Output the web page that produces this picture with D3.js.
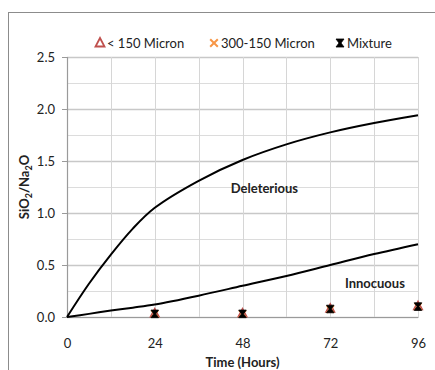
<!DOCTYPE html>
<html>
<head>
<meta charset="utf-8">
<script src="https://cdn.jsdelivr.net/npm/d3@7"></script>
<style>
  body { margin: 0; background: #fff; }
  svg text { font-family: Lato, "Open Sans", sans-serif; fill: #222; }
</style>
</head>
<body>
<svg id="chart" width="435" height="370"></svg>
<script>
// boundary curves
const hours = [0, 6, 12, 18, 24, 36, 48, 60, 72, 84, 96];
const deleterious = [0, 0.32, 0.6, 0.85, 1.05, 1.31, 1.51, 1.66, 1.775, 1.865, 1.94];
const innocuous = [0, 0.03, 0.062, 0.09, 0.12, 0.205, 0.30, 0.395, 0.50, 0.605, 0.70];

// measured samples
const sampleHours = [24, 48, 72, 96];
const under150 = [0.035, 0.035, 0.08, 0.105];
const micron300to150 = [0.03, 0.03, 0.075, 0.1];
const mixture = [0.03, 0.03, 0.077, 0.1];

const xTicks = [0, 24, 48, 72, 96];
const yTicks = [0, 0.5, 1.0, 1.5, 2.0, 2.5];

const svg = d3.select('#chart');
const margin = { left: 67, right: 17, top: 57, bottom: 53 };
const width = 435, height = 370;

const x = d3.scaleLinear().domain([0, 96]).range([margin.left, width - margin.right]);
const y = d3.scaleLinear().domain([0, 2.5]).range([height - margin.bottom, margin.top]);

// outer frame
svg.append('rect')
  .attr('x', 8.5).attr('y', 12.5)
  .attr('width', 440).attr('height', 380)
  .attr('fill', 'none').attr('stroke', '#8c8c8c').attr('stroke-width', 1);

// grid
const isHalf = (d) => Math.abs(d * 2 - Math.round(d * 2)) < 1e-6;
const grid = svg.append('g');
grid.selectAll('.hg')
  .data(d3.range(0, 2.51, 0.25))
  .enter().append('line')
  .attr('x1', x(0)).attr('x2', x(96))
  .attr('y1', (d) => Math.round(y(d)) + 0.5).attr('y2', (d) => Math.round(y(d)) + 0.5)
  .attr('stroke', (d) => (isHalf(d) ? '#c8c8c8' : '#dcdcdc'))
  .attr('stroke-width', (d) => (isHalf(d) ? 1.5 : 1));
grid.selectAll('.vg')
  .data(d3.range(12, 97, 12))
  .enter().append('line')
  .attr('y1', y(0)).attr('y2', y(2.5))
  .attr('x1', (d) => Math.round(x(d)) + 0.5).attr('x2', (d) => Math.round(x(d)) + 0.5)
  .attr('stroke', '#d6d6d6').attr('stroke-width', 1);

// axes
const xAxis = svg.append('g')
  .attr('transform', `translate(0,${y(0)})`)
  .call(d3.axisBottom(x).tickValues(xTicks).tickSize(0).tickPadding(22).tickFormat(d3.format('d')));
xAxis.select('.domain').attr('stroke', '#9a9a9a').attr('stroke-width', 1.2);
xAxis.selectAll('text').attr('font-size', 13).style('fill', '#222');

const yAxis = svg.append('g')
  .attr('transform', `translate(${x(0)},0)`)
  .call(d3.axisLeft(y).tickValues(yTicks).tickSize(5).tickPadding(7).tickFormat(d3.format('.1f')));
yAxis.select('.domain').attr('stroke', '#9a9a9a').attr('stroke-width', 1.2);
yAxis.selectAll('.tick line').attr('stroke', '#9a9a9a');
yAxis.selectAll('text').attr('font-size', 13).style('fill', '#222');

// axis titles
svg.append('text')
  .attr('x', (x(0) + x(96)) / 2).attr('y', 367)
  .attr('text-anchor', 'middle').attr('font-size', 13).attr('font-weight', 'bold')
  .text('Time (Hours)');

const yt = svg.append('text')
  .attr('transform', 'translate(29,187) rotate(-90)')
  .attr('text-anchor', 'middle').attr('font-size', 13).attr('font-weight', 'bold');
yt.append('tspan').text('SiO');
yt.append('tspan').attr('font-size', 9).attr('dy', 3).text('2');
yt.append('tspan').attr('dy', -3).text('/Na');
yt.append('tspan').attr('font-size', 9).attr('dy', 3).text('2');
yt.append('tspan').attr('dy', -3).text('O');

// curves
const line = d3.line()
  .x((d) => x(d[0]))
  .y((d) => y(d[1]))
  .curve(d3.curveCatmullRom.alpha(0.5));

[deleterious, innocuous].forEach((series) => {
  svg.append('path')
    .datum(hours.map((h, i) => [h, series[i]]))
    .attr('d', line)
    .attr('fill', 'none').attr('stroke', '#000').attr('stroke-width', 2);
});

svg.append('text')
  .attr('x', x(44.8)).attr('y', y(1.19))
  .attr('font-size', 13).attr('font-weight', 'bold')
  .text('Deleterious');
svg.append('text')
  .attr('x', x(76)).attr('y', y(0.28))
  .attr('font-size', 13).attr('font-weight', 'bold')
  .text('Innocuous');

// markers
const triPath = (s) => `M0,${-s}L${s * 0.9},${s * 0.7}L${-s * 0.9},${s * 0.7}Z`;
const crossPath = (s) => `M${-s},${-s}L${s},${s}M${s},${-s}L${-s},${s}`;
const hourglassPath = (s) => `M${-s},${-s}L${s},${-s}L${s * 0.25},0L${s},${s}L${-s},${s}L${-s * 0.25},0Z`;

function drawTri(g, cx, cy, s = 4.5) {
  g.append('path').attr('transform', `translate(${cx},${cy})`)
    .attr('d', triPath(s)).attr('fill', 'none').attr('stroke', '#c0504d').attr('stroke-width', 1.8);
}
function drawCross(g, cx, cy, s = 3.5) {
  g.append('path').attr('transform', `translate(${cx},${cy})`)
    .attr('d', crossPath(s)).attr('fill', 'none').attr('stroke', '#f79646').attr('stroke-width', 2);
}
function drawHourglass(g, cx, cy, s = 3.8) {
  g.append('path').attr('transform', `translate(${cx},${cy})`)
    .attr('d', hourglassPath(s)).attr('fill', '#000').attr('stroke', '#000').attr('stroke-width', 0.8);
}

const marks = svg.append('g');
sampleHours.forEach((h, i) => drawTri(marks, x(h), y(under150[i])));
sampleHours.forEach((h, i) => drawCross(marks, x(h), y(micron300to150[i])));
sampleHours.forEach((h, i) => drawHourglass(marks, x(h), y(mixture[i])));

// legend
const legend = svg.append('g');
const legendItems = [
  { label: '< 150 Micron', draw: drawTri, x: 100, s: 5 },
  { label: '300-150 Micron', draw: drawCross, x: 214, s: 3.8 },
  { label: 'Mixture', draw: drawHourglass, x: 340, s: 4 },
];
legendItems.forEach((it) => {
  it.draw(legend, it.x, 43, it.s);
  legend.append('text')
    .attr('x', it.x + 7).attr('y', 47.5)
    .attr('font-size', 13)
    .text(it.label);
});
</script>
</body>
</html>
